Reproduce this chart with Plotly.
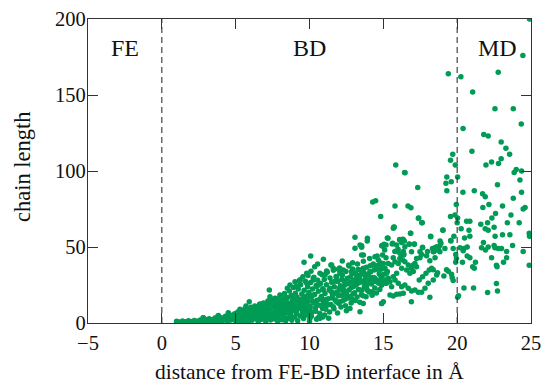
import plotly.graph_objects as go

# ---- data ----
# dense lower band (x in Angstrom, chain length)
band_pts = [
    (1.0, 0.5), (1.0, 1.2), (1.2, 0.7), (1.4, 0.5), (1.4, 1.3), (1.6, 0.9), (1.8, 0.6), (1.8, 1.5),
    (2.0, 1.0), (2.2, 0.6), (2.2, 1.7), (2.4, 1.2), (2.6, 0.7), (2.6, 2.0), (2.8, 1.3), (2.8, 3.4),
    (3.0, 0.8), (3.0, 2.2), (3.2, 1.5), (3.2, 2.8), (3.4, 0.9), (3.4, 2.2), (3.6, 1.6), (3.6, 3.3),
    (3.8, 0.8), (3.8, 2.5), (3.8, 4.5), (4.0, 1.5), (4.0, 3.4),
    (4.05, 1.2), (4.13, 3.1), (4.27, 2.0), (4.31, 4.4), (4.46, 0.7), (4.52, 3.3), (4.58, 5.6),
    (4.69, 1.9), (4.74, 4.1), (4.88, 2.7), (4.93, 6.1), (5.02, 0.9), (5.08, 4.7), (5.14, 7.2),
    (5.21, 2.4), (5.27, 5.9), (5.33, 3.6), (5.39, 8.3), (5.46, 1.3), (5.51, 6.7), (5.57, 4.3),
    (5.63, 9.6), (5.69, 2.6), (5.74, 7.4), (5.81, 5.1), (5.86, 1.0), (5.92, 8.7), (5.97, 3.7),
    (6.03, 10.3), (6.09, 6.2), (6.12, 1.8), (6.18, 4.6), (6.24, 8.0), (6.29, 11.2), (6.35, 2.9),
    (6.41, 6.8), (6.47, 9.5), (6.52, 0.9), (6.56, 4.9), (6.61, 12.1), (6.67, 7.6), (6.72, 2.3),
    (6.78, 10.3), (6.83, 5.7), (6.88, 13.2), (6.93, 3.4), (6.97, 8.6), (7.04, 1.1), (7.09, 11.5),
    (7.13, 6.3), (7.18, 14.4), (7.22, 3.9), (7.27, 9.4), (7.31, 12.7), (7.36, 1.9), (7.41, 7.1),
    (7.45, 15.6), (7.49, 4.7), (7.54, 10.6), (7.58, 13.5), (7.63, 2.6), (7.67, 8.2), (7.72, 16.2),
    (7.76, 5.5), (7.81, 11.8), (7.85, 1.0), (7.89, 14.7), (7.93, 3.7), (7.97, 9.3), (8.02, 17.6),
    (8.06, 6.4), (8.1, 12.4), (8.14, 2.2), (8.18, 15.3), (8.22, 8.1), (8.27, 4.6), (8.31, 19.4),
    (8.35, 11.0), (8.39, 1.4), (8.43, 13.9), (8.47, 6.9), (8.51, 16.8), (8.55, 3.2), (8.6, 9.8),
    (8.64, 21.1), (8.68, 12.6), (8.72, 5.1), (8.76, 18.1), (8.8, 1.8), (8.84, 15.0), (8.88, 8.4),
    (8.92, 23.3), (8.96, 10.9), (9.0, 3.9), (9.04, 19.6), (9.08, 13.8), (9.12, 6.4), (9.16, 17.1),
    (9.2, 1.5), (9.24, 22.3), (9.28, 9.7), (9.32, 14.6), (9.36, 4.6), (9.4, 25.2), (9.44, 11.8),
    (9.48, 19.0), (9.52, 7.3), (9.56, 16.3), (9.6, 2.9), (9.64, 21.6), (9.68, 12.9), (9.72, 27.4),
    (9.76, 9.1), (9.8, 17.8), (9.84, 5.3), (9.88, 23.9), (9.92, 14.2), (9.96, 20.1), (10.0, 1.2),
    (10.04, 10.7), (10.08, 26.6), (10.12, 16.9), (10.16, 7.0), (10.2, 22.4), (10.25, 13.1),
    (10.3, 30.1), (10.35, 18.8), (10.4, 9.9), (10.45, 24.7), (10.5, 15.0), (10.55, 28.2),
    (10.6, 20.9), (10.65, 11.7), (10.7, 6.2), (10.75, 26.0), (10.8, 17.4), (10.85, 31.8),
    (10.9, 22.6), (10.95, 13.6), (11.0, 28.7), (11.05, 19.4), (11.1, 9.1), (11.15, 25.1),
    (11.2, 33.4), (11.27, 15.9), (11.33, 21.7), (11.39, 29.6), (11.45, 12.2), (11.5, 26.8),
    (11.56, 18.3), (11.62, 34.7), (11.68, 23.9), (11.74, 15.1), (11.8, 30.6), (11.86, 20.4),
    (11.92, 27.3), (11.98, 12.8), (12.04, 36.2), (12.1, 24.5), (12.16, 18.1), (12.22, 31.4),
    (12.29, 22.0), (12.35, 27.7), (12.41, 15.6), (12.47, 33.9), (12.53, 20.7), (12.6, 25.9),
    (12.66, 38.1), (12.72, 17.5), (12.78, 30.2), (12.85, 23.4), (12.92, 35.6), (12.98, 28.0),
    (13.05, 19.9), (13.12, 32.7), (13.18, 25.3), (13.25, 38.8), (13.32, 22.1), (13.38, 29.5),
    (13.45, 34.8), (13.52, 18.6), (13.58, 27.0), (13.65, 40.6), (13.72, 24.2), (13.8, 31.1),
    (13.86, 36.7), (13.93, 21.3), (14.0, 28.4), (14.07, 42.5), (14.14, 33.6), (14.2, 25.7),
    (14.28, 38.2), (14.35, 30.0), (14.42, 23.1), (14.5, 35.3), (14.58, 44.1), (14.65, 27.8),
    (14.72, 32.4), (14.8, 39.7), (14.88, 24.9),
    (5.35, 0.6), (5.75, 0.7), (6.0, 3.0), (6.3, 5.5), (6.55, 3.0), (6.9, 6.6), (7.15, 2.8),
    (7.4, 5.8), (7.7, 10.2), (7.95, 6.9), (8.05, 10.6), (8.25, 13.2), (8.45, 9.4), (8.65, 3.9),
    (8.85, 11.6), (9.05, 8.1), (9.25, 12.4), (9.45, 15.3), (9.65, 6.0), (9.85, 11.2), (8.5, 22.8),
    (9.1, 24.2), (9.3, 27.5), (9.55, 30.5), (9.9, 31.2), (10.1, 34.0), (10.35, 37.0), (8.2, 6.7),
]

# extra fill of the dense cloud between about 5 and 15 Angstrom
fill_pts = [
    (10.13, 4.5), (10.42, 7.8), (10.58, 3.5), (10.88, 9.5), (11.03, 5.2), (11.12, 15.5),
    (11.24, 11.8), (11.36, 7.3), (11.48, 20.6), (11.53, 16.5), (11.66, 9.3), (11.71, 27.5),
    (11.83, 13.9), (11.95, 17.9), (12.01, 22.8), (12.13, 10.5), (12.19, 28.6), (12.26, 14.7),
    (12.32, 19.3), (12.38, 24.8), (12.44, 11.3), (12.56, 29.4), (12.62, 16.4), (12.69, 21.8),
    (12.75, 26.7), (12.82, 13.2), (12.88, 32.4), (12.95, 19.3), (13.02, 24.2), (13.09, 14.8),
    (13.15, 29.1), (13.22, 17.1), (13.28, 35.2), (13.35, 26.4), (13.41, 13.6), (13.48, 31.9),
    (13.55, 21.5), (13.62, 18.0), (13.68, 33.4), (13.75, 28.7), (13.83, 17.3), (13.9, 25.1),
    (13.97, 32.1), (14.04, 20.4), (14.11, 37.6), (14.17, 29.8), (14.24, 18.2), (14.31, 27.1),
    (14.38, 34.8), (14.45, 29.3), (14.53, 19.7), (14.61, 37.8), (14.69, 26.1), (14.76, 22.0),
    (14.84, 30.7), (14.93, 35.9), (10.9, 4.0), (11.3, 3.2), (11.9, 6.5), (12.5, 8.0), (9.5, 10.0),
    (9.7, 14.8), (9.95, 7.9), (10.22, 18.3), (10.48, 12.3), (10.7, 15.6), (10.92, 11.2),
    (9.15, 10.5), (9.45, 9.6), (8.95, 16.0), (8.75, 7.2), (8.55, 12.0), (8.35, 16.5), (8.12, 9.2),
    (7.9, 12.2), (7.55, 12.5), (7.25, 5.5), (7.05, 8.0), (6.8, 9.0), (6.45, 7.9), (6.15, 9.6),
    (5.85, 6.0), (5.55, 5.2), (5.15, 3.4), (4.8, 4.9),
]

# scattered points between about 3 and 15 Angstrom
mid_pts = [
    (2.81, 3.5), (3.83, 4.9), (4.5, 6.8), (5.29, 9.0), (5.7, 11.2), (5.92, 14.0), (6.65, 12.5),
    (7.28, 21.7), (7.32, 17.3), (7.66, 16.3), (8.0, 18.5), (8.34, 15.2), (8.68, 25.0), (9.36, 28.3),
    (9.63, 39.9), (9.81, 32.7), (10.08, 44.1), (10.26, 29.4), (10.6, 25.0), (10.82, 16.2),
    (10.71, 3.1), (10.48, 2.4), (9.69, 6.4), (10.03, 3.1), (10.94, 41.9), (11.45, 38.2),
    (12.22, 40.8), (13.08, 56.4), (13.08, 49.1), (12.92, 39.7), (11.16, 34.2), (12.06, 35.3),
    (10.55, 38.8), (11.5, 38.2), (12.67, 37.5), (13.53, 44.7), (13.53, 49.8), (13.91, 54.0),
    (14.95, 50.7), (15.18, 51.3), (14.43, 43.6), (14.66, 41.4),
    (10.71, 32.7), (11.05, 31.6), (11.16, 33.8), (11.84, 30.5), (12.06, 32.7), (12.29, 34.9),
    (11.61, 36.0), (11.95, 35.3), (12.85, 33.8), (13.19, 31.6), (13.64, 36.0), (14.09, 33.8),
    (14.32, 38.8), (14.55, 37.1), (14.77, 34.9), (15.0, 39.2), (15.22, 32.7), (13.08, 26.5),
    (13.87, 26.1), (14.55, 27.2), (14.89, 29.4), (15.11, 26.1), (13.42, 21.7), (13.87, 22.8),
    (14.21, 20.6), (9.02, 27.2), (9.35, 28.3), (9.81, 26.1), (10.26, 28.3), (10.48, 23.9),
    (10.93, 21.7), (11.39, 22.8), (11.72, 19.5), (12.06, 21.7), (12.51, 18.4), (12.85, 16.2),
    (12.74, 9.6), (13.42, 7.4), (13.64, 12.9), (14.89, 12.9), (9.02, 18.4), (9.35, 15.1),
    (9.81, 16.2), (10.26, 14.0), (10.82, 16.2), (11.16, 12.9), (11.61, 10.7), (12.06, 14.0),
    (8.23, 10.7), (8.68, 12.9), (9.13, 8.6), (9.58, 11.8), (10.03, 9.6), (8.11, 6.4),
]

# points between about 13 and 20 Angstrom (upper cloud)
bd_pts = [
    (15.84, 104.0), (16.47, 98.9), (17.33, 89.1), (14.48, 80.5), (14.28, 79.6), (15.79, 77.0),
    (16.67, 77.0), (16.87, 75.9), (14.82, 70.0), (17.37, 68.9), (17.64, 66.0), (15.74, 63.2),
    (15.68, 62.3), (16.85, 59.0), (19.04, 61.2), (18.21, 56.8), (13.92, 55.7), (13.53, 50.9),
    (14.89, 50.9), (15.05, 51.8), (15.32, 55.7), (15.63, 52.4), (15.9, 51.3), (16.13, 54.6),
    (16.31, 55.1), (16.42, 54.0), (16.76, 51.8), (17.1, 51.8), (17.66, 49.8), (18.84, 54.0),
    (18.9, 52.4), (18.57, 49.2), (18.43, 47.0), (18.68, 48.1), (19.56, 54.2), (13.65, 44.8),
    (13.42, 51.3),
    (14.88, 38.2), (15.11, 36.0), (15.33, 39.2), (15.56, 38.2), (15.79, 40.3), (16.01, 39.2),
    (16.12, 42.5), (16.3, 41.4), (16.46, 40.3), (16.69, 38.2), (16.91, 36.0), (17.03, 38.2),
    (17.14, 39.2), (17.25, 37.0), (17.03, 33.8), (16.8, 32.7), (16.58, 34.9), (16.24, 36.0),
    (15.9, 32.7), (15.67, 30.4), (15.33, 29.4), (15.11, 28.3), (14.88, 27.2), (15.22, 26.1),
    (15.45, 27.2), (15.79, 28.3), (16.01, 26.1), (16.24, 23.9), (16.46, 25.0), (16.69, 22.8),
    (16.91, 21.0), (17.14, 21.7), (17.37, 20.2), (17.59, 20.2), (17.82, 22.8), (18.04, 26.1),
    (18.38, 28.3), (18.61, 31.6), (15.56, 23.9), (15.45, 18.4), (15.67, 17.8), (15.9, 18.9),
    (16.12, 19.1), (16.35, 19.5), (15.0, 14.0), (14.88, 12.9), (17.43, 28.3), (17.66, 30.4),
    (17.89, 32.7), (18.11, 34.9), (15.04, 32.0), (15.27, 33.8), (14.95, 44.7), (15.18, 43.0),
    (15.67, 43.0), (16.35, 44.7), (16.12, 45.8), (15.9, 47.4), (16.46, 50.2), (16.91, 46.9),
    (17.25, 42.5), (17.48, 46.9), (18.38, 46.9), (18.61, 50.2), (18.83, 46.9), (18.5, 43.0),
    (17.93, 44.3), (15.7, 63.0), (16.84, 59.0), (18.2, 57.0), (15.27, 56.0), (16.1, 55.0),
    (16.35, 55.0), (16.24, 53.0), (15.6, 52.0), (16.75, 52.0), (17.1, 52.0),
    (14.95, 51.0), (15.09, 48.0), (15.78, 47.0), (16.0, 48.5), (16.35, 47.0), (16.4, 45.0),
    (17.65, 49.5), (17.99, 47.0), (18.33, 49.0), (18.49, 49.5), (18.72, 48.5), (18.83, 51.0),
    (19.17, 49.0), (19.73, 49.0), (17.59, 45.0), (17.48, 43.0), (18.15, 41.0), (19.9, 45.0),
    (19.95, 42.5), (19.9, 40.0), (18.27, 36.0), (18.38, 35.0), (18.67, 33.0), (19.1, 31.0),
    (19.28, 35.0), (19.4, 34.0), (19.62, 32.0), (19.66, 30.0), (19.73, 28.0), (18.15, 17.0),
    (16.9, 14.0), (17.6, 66.0), (16.44, 99.0), (17.4, 69.0), (19.03, 61.0), (19.78, 57.0),
    (19.58, 54.0),
    (19.4, 164.0), (19.7, 111.0), (19.55, 107.0), (19.87, 104.0), (19.3, 96.0), (19.6, 93.0),
    (19.24, 92.0), (19.3, 87.0), (19.94, 78.0), (19.55, 70.0), (19.85, 71.0),
]

# points in the MD region (x > 20)
md_pts = [
    (24.9, 200.0), (24.45, 176.0), (22.78, 165.0), (20.25, 162.0), (21.05, 152.0),
    (22.56, 141.0), (23.8, 141.0), (24.34, 131.0), (20.4, 128.0), (21.8, 124.0), (22.1, 123.0),
    (22.98, 119.0), (23.3, 115.0), (23.55, 111.0), (21.0, 113.0), (22.98, 108.0), (22.8, 105.0),
    (22.33, 106.0), (21.95, 104.0), (24.0, 101.0), (23.86, 99.0), (24.36, 100.0), (20.03, 96.0),
    (24.25, 94.0), (22.73, 91.0), (20.39, 86.0), (21.16, 87.0), (21.72, 85.0), (21.9, 83.0),
    (24.36, 86.0), (23.8, 82.0), (21.74, 76.0), (22.15, 78.0), (23.07, 77.0), (24.6, 76.0),
    (24.47, 75.0), (22.6, 72.0), (23.64, 71.0), (20.03, 69.0), (22.35, 69.0), (20.0, 66.0),
    (20.64, 67.0), (20.86, 67.0), (21.6, 65.0), (22.06, 66.0), (22.5, 63.0), (23.4, 66.0),
    (24.2, 66.0), (20.27, 62.0), (20.8, 61.0), (21.9, 62.0), (22.1, 61.0), (20.5, 56.0),
    (20.86, 57.0), (22.57, 57.0), (23.07, 58.0), (23.57, 58.0), (24.88, 59.0), (24.9, 57.0),
    (21.78, 53.0), (22.5, 51.0), (23.75, 51.0), (20.19, 49.5), (20.46, 49.0), (20.68, 50.0),
    (20.41, 47.5), (21.65, 49.5), (22.1, 50.0), (21.92, 48.0), (22.56, 49.5), (22.78, 49.0),
    (23.0, 49.0), (23.35, 47.0), (23.35, 43.0), (24.47, 47.0), (24.88, 38.0), (20.68, 44.0),
    (20.86, 43.0), (21.24, 40.0), (20.36, 40.0), (21.05, 37.0), (21.16, 36.0), (22.33, 43.0),
    (22.66, 38.0), (22.7, 37.0), (23.14, 40.0), (20.46, 23.0), (21.11, 23.0), (22.66, 26.0),
    (22.73, 21.0), (22.06, 20.0), (20.09, 18.0), (20.03, 17.0),
]

region_labels = ["FE", "BD", "MD"]
region_label_x = [-2.5, 10.0, 22.7]
region_label_y = [181.0, 181.0, 181.0]
boundary_x = [0, 20]

x_ticks = [-5, 0, 5, 10, 15, 20, 25]
y_ticks = [0, 50, 100, 150, 200]

GREEN = "#009B55"
FONT = "Liberation Serif"
TXT = "#111111"

all_pts = band_pts + fill_pts + mid_pts + bd_pts + md_pts
xs = [p[0] for p in all_pts]
ys = [p[1] for p in all_pts]

fig = go.Figure()
fig.add_trace(go.Scatter(
    x=xs, y=ys, mode="markers",
    marker=dict(color=GREEN, size=5.5, line=dict(width=0)),
    showlegend=False, cliponaxis=True,
))

for bx in boundary_x:
    fig.add_shape(type="line", x0=bx, x1=bx, y0=0, y1=1, yref="paper", xref="x",
                  line=dict(color="#333333", width=1.1, dash="6px,4px"), layer="above")

for t, lx, ly in zip(region_labels, region_label_x, region_label_y):
    fig.add_annotation(x=lx, y=ly, text=t, showarrow=False,
                       font=dict(family=FONT, size=24, color=TXT),
                       xanchor="center", yanchor="middle")

# axis titles as annotations for exact placement
fig.add_annotation(x=0.5, y=0, xref="paper", yref="paper", yshift=-62,
                   text="distance from FE-BD interface in Å", showarrow=False,
                   font=dict(family=FONT, size=21.5, color=TXT),
                   xanchor="center", yanchor="bottom", borderpad=0)
fig.add_annotation(x=0, y=0.5, xref="paper", yref="paper", xshift=-66, yshift=4,
                   text="chain length", showarrow=False, textangle=-90,
                   font=dict(family=FONT, size=22.5, color=TXT),
                   xanchor="center", yanchor="middle")

axis_common = dict(
    showgrid=False, zeroline=False, showline=True, linecolor="#333333", linewidth=1.2,
    mirror="ticks", ticks="inside", ticklen=10, tickwidth=1.1, tickcolor="#333333",
    automargin=False,
)

fig.update_xaxes(range=[-5, 25], tickvals=x_ticks,
                 ticktext=[("\u2212" + str(abs(v))) if v < 0 else str(v) for v in x_ticks],
                 tickfont=dict(family=FONT, size=20.5, color=TXT),
                 ticklabelstandoff=1, **axis_common)
fig.update_yaxes(range=[0, 200], tickvals=y_ticks,
                 tickfont=dict(family=FONT, size=20.5, color=TXT),
                 ticklabelstandoff=-3, **axis_common)

fig.update_layout(
    width=543, height=383,
    margin=dict(l=88, r=12, t=19, b=60, pad=0),
    plot_bgcolor="white", paper_bgcolor="white",
)

fig.write_html("out.html")
